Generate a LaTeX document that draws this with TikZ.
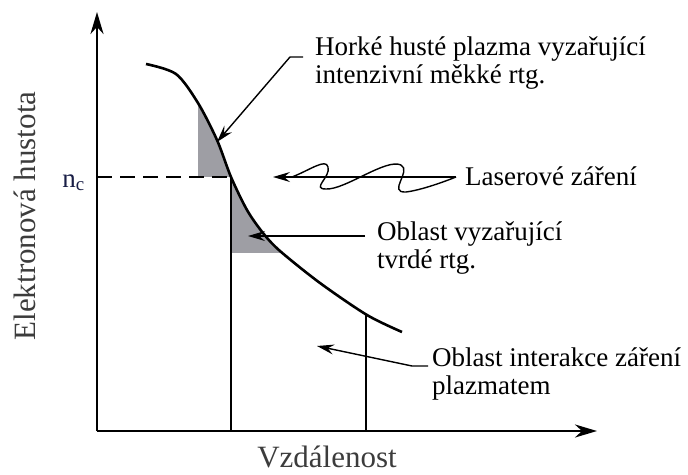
\documentclass[tikz,border=0pt]{standalone}
\usepackage{fontspec}
\setmainfont{Liberation Serif}
\usetikzlibrary{arrows.meta}
\definecolor{shadegray}{RGB}{158,158,164}
\definecolor{axtext}{RGB}{60,60,60}
\definecolor{ncblue}{RGB}{25,30,70}
\tikzset{
  axis/.style={line width=2.5pt, -{Stealth[length=22pt,width=13pt,inset=7pt]}},
  leader/.style={line width=1.4pt, -{Stealth[length=17pt,width=10pt,inset=6pt]}},
  thin line/.style={line width=1.3pt},
  lbl/.style={font=\fontsize{27}{28}\selectfont, align=left, inner sep=0pt},
  axlbl/.style={font=\fontsize{31}{34}\selectfont, text=axtext, inner sep=0pt}
}
\begin{document}
\begin{tikzpicture}[x=1pt,y=-1pt]
  \useasboundingbox (0,0) rectangle (688,474);
  % axes
  \coordinate (origin) at (97,431);
  \coordinate (ytip) at (97,12);
  \coordinate (xtip) at (597,431);
  % density profile
  \def\profile{(146,64) (176,74) (198,103) (217,140) (231,177) (247,210)
    (263,233) (280,251) (320,283) (367,315) (402,332)}
  \begin{scope}
    \clip plot[smooth] coordinates {\profile} -- (402,431) -- (146,431) -- cycle;
    \fill[shadegray] (198,60) rectangle (231,177);
    \fill[shadegray] (231,177) rectangle (300,253);
  \end{scope}
  \draw[line width=2.6pt] plot[smooth] coordinates {\profile};
  \coordinate (nc) at (231,177);
  \coordinate (nc0) at (97,177);
  \draw[line width=1.8pt, dash pattern=on 15pt off 8pt] (nc0) -- (nc);
  \draw[thin line] (nc) -- (231,431);
  \draw[thin line] (366,315) -- (366,431);
  \draw[axis] (origin) -- (ytip);
  \draw[axis] (origin) -- (xtip);
  % labels
  \node[axlbl, rotate=90, anchor=base] (ylab) at (35,216) {Elektronová hustota};
  \node[axlbl, anchor=base] (xlab) at (327,467) {Vzdálenost};
  \node[font=\fontsize{27}{28}\selectfont, text=ncblue, inner sep=0pt, anchor=base east] (nclab) at (85,187) {n\textsubscript{c}};
  \node[lbl, anchor=north west] (hot) at (315,37) {Horké husté plazma vyzařující\\intenzivní měkké rtg.};
  \node[lbl, anchor=north west] (laser) at (465,167) {Laserové záření};
  \node[lbl, anchor=north west] (hard) at (377,222) {Oblast vyzařující\\tvrdé rtg.};
  \node[lbl, anchor=north west] (inter) at (432,348) {Oblast interakce záření\\plazmatem};
  % leaders
  \coordinate (hottip) at (217,142);
  \coordinate (hardtip) at (248,236);
  \coordinate (intertip) at (317,346);
  \coordinate (lasertip) at (273,177);
  \coordinate (laserend) at (456,177);
  \draw[leader] (303,57) -- (290,57) -- (hottip);
  \draw[leader] (365,236) -- (hardtip);
  \draw[leader] (428,366) -- (412,366) -- (intertip);
  \draw[leader] (laserend) -- (lasertip);
  \draw[line width=1.4pt] (292,177) .. controls (310,170) and (326,158) .. (328,167)
    .. controls (331,177) and (311,189) .. (326,189)
    .. controls (345,190) and (386,158) .. (401,165)
    .. controls (412,171) and (387,193) .. (406,192)
    .. controls (422,190) and (446,181) .. (laserend);
\end{tikzpicture}
\end{document}
